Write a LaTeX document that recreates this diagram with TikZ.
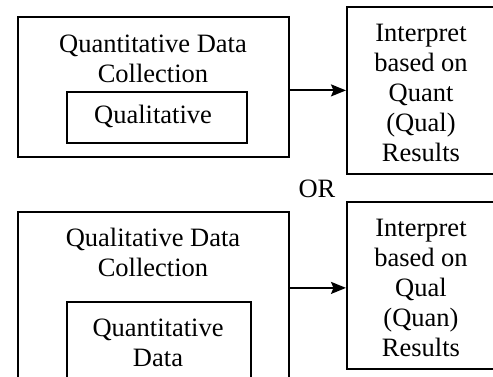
\documentclass[tikz,border=0pt]{standalone}
\usepackage{fontspec}
\setmainfont{Liberation Serif}
\usetikzlibrary{arrows.meta}
\begin{document}
\begin{tikzpicture}[x=1pt,y=-1pt,
  box/.style={draw, line width=1.8pt, inner sep=0pt, anchor=north west},
  lbl/.style={align=center, anchor=base, inner sep=0pt, font=\fontsize{26.5}{30}\selectfont},
  conn/.style={line width=1.8pt, -{Stealth[length=15pt,width=12pt,inset=2.5pt]}}]
\useasboundingbox (0,0) rectangle (493,377);
\clip (0,0) rectangle (493,377);
% top group
\node[box, minimum width=271pt, minimum height=140pt] (q1) at (17,16) {};
\node[box, minimum width=180pt, minimum height=51pt] (q1i) at (66,91) {};
\node[box, minimum width=150pt, minimum height=167pt] (r1) at (346,6) {};
\node[lbl] (q1t) at (153,82.5) {Quantitative Data\\Collection};
\node[lbl] (q1it) at (153,123.3) {Qualitative};
\node[lbl] (r1t) at (421,161.7) {Interpret\\based on\\Quant\\(Qual)\\Results};
\draw[conn] (r1.west -| q1.east) -- (r1.west);
% OR
\node[lbl] (or) at (317,198) {OR};
% bottom group
\node[box, minimum width=271pt, minimum height=200pt] (q2) at (17,211) {};
\node[box, minimum width=184pt, minimum height=110pt] (q2i) at (66,301) {};
\node[box, minimum width=150pt, minimum height=167pt] (r2) at (346,201) {};
\node[lbl] (q2t) at (153,276.5) {Qualitative Data\\Collection};
\node[lbl] (q2it) at (158,366.7) {Quantitative\\Data};
\node[lbl] (r2t) at (421,356.7) {Interpret\\based on\\Qual\\(Quan)\\Results};
\draw[conn] ([yshift=-2.5pt]r2.west -| q2.east) -- ([yshift=-2.5pt]r2.west);
\end{tikzpicture}
\end{document}
